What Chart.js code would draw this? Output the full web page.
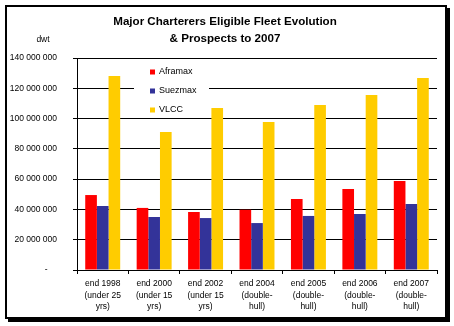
<!DOCTYPE html>
<html>
<head>
<meta charset="utf-8">
<script src="https://cdn.jsdelivr.net/npm/chart.js@4/dist/chart.umd.min.js"></script>
<style>
  html, body { margin: 0; padding: 0; background: #fff; }
  #wrap { position: relative; width: 454px; height: 326px; }
  #frame {
    position: absolute; left: 5px; top: 5px;
    width: 438px; height: 310px;
    border: 2px solid #000;
    box-shadow: 3px 3px 0 #000;
    background: #fff;
  }
  #c { position: absolute; left: 0; top: 0; }
</style>
</head>
<body>
<div id="wrap">
  <div id="frame"></div>
  <canvas id="c" width="454" height="326"></canvas>
</div>
<script>
// Fleet size in dwt per period
const categories = [
  ["end 1998", "(under 25", "yrs)"],
  ["end 2000", "(under 15", "yrs)"],
  ["end 2002", "(under 15", "yrs)"],
  ["end 2004", "(double-", "hull)"],
  ["end 2005", "(double-", "hull)"],
  ["end 2006", "(double-", "hull)"],
  ["end 2007", "(double-", "hull)"]
];
const aframax = [49500000, 41000000, 38300000, 39800000, 46900000, 53500000, 58800000];
const suezmax = [42300000, 35000000, 34300000, 31000000, 35700000, 37000000, 43600000];
const vlcc    = [128100000, 91100000, 107000000, 97800000, 109000000, 115600000, 126800000];

const seriesNames = ["Aframax", "Suezmax", "VLCC"];
const seriesColors = ["#FF0000", "#333399", "#FFCC00"];
const titleLines = ["Major Charterers Eligible Fleet Evolution", "& Prospects to 2007"];

const FONT = "'Liberation Sans', Arial, sans-serif";
Chart.defaults.color = '#000';
Chart.defaults.font.family = FONT;

function fmt(v) {
  if (v === 0) return '-    ';
  return String(v).replace(/\B(?=(\d{3})+(?!\d))/g, ' ');
}

// Legend box drawn inside the plot area, over the gridlines
const innerLegend = {
  id: 'innerLegend',
  beforeDatasetsDraw(chart) {
    const ctx = chart.ctx;
    ctx.save();
    ctx.fillStyle = '#fff';
    ctx.fillRect(134, 61, 75, 55);
    ctx.font = '9px ' + FONT;
    ctx.textBaseline = 'middle';
    ctx.textAlign = 'left';
    chart.data.datasets.forEach((ds, i) => {
      const y = 72 + i * 19;
      ctx.fillStyle = ds.backgroundColor;
      ctx.fillRect(150, y - 2.5, 5, 5);
      ctx.fillStyle = '#000';
      ctx.fillText(ds.label, 159, y);
    });
    ctx.restore();
  }
};

// Title and unit caption
const headings = {
  id: 'headings',
  afterDraw(chart) {
    const ctx = chart.ctx;
    ctx.save();
    ctx.fillStyle = '#000';
    ctx.textAlign = 'center';
    ctx.textBaseline = 'middle';
    ctx.font = 'bold 11.6px ' + FONT;
    titleLines.forEach((t, i) => ctx.fillText(t, 225, 22 + i * 17));
    ctx.font = '8.5px ' + FONT;
    ctx.fillText('dwt', 43, 40);
    ctx.restore();
  }
};

const values = [aframax, suezmax, vlcc];

new Chart(document.getElementById('c'), {
  type: 'bar',
  data: {
    labels: categories,
    datasets: values.map((d, i) => ({
      label: seriesNames[i],
      data: d,
      backgroundColor: seriesColors[i],
      borderWidth: 0,
      barPercentage: 1,
      categoryPercentage: 0.68
    }))
  },
  options: {
    responsive: false,
    animation: false,
    layout: { padding: { left: 0, right: 17, top: 58, bottom: 0 } },
    plugins: {
      legend: { display: false },
      tooltip: { enabled: false },
      title: { display: false }
    },
    scales: {
      x: {
        offset: true,
        grid: {
          offset: true,
          drawOnChartArea: false,
          drawTicks: true,
          tickLength: 4,
          color: '#000',
          lineWidth: 1
        },
        border: { display: true, color: '#000', width: 1 },
        ticks: {
          font: { size: 8.5, lineHeight: '11.5px' },
          padding: 4,
          maxRotation: 0,
          autoSkip: false
        },
        afterFit(scale) { scale.height = 56; }
      },
      y: {
        min: 0,
        max: 140000000,
        grid: {
          color: '#000',
          lineWidth: 1,
          drawTicks: true,
          tickLength: 4
        },
        border: { display: true, color: '#000', width: 1 },
        ticks: {
          stepSize: 20000000,
          font: { size: 8.5 },
          padding: 16,
          callback: (v) => fmt(v)
        },
        afterFit(scale) { scale.width = 77; }
      }
    }
  },
  plugins: [innerLegend, headings]
});
</script>
</body>
</html>
